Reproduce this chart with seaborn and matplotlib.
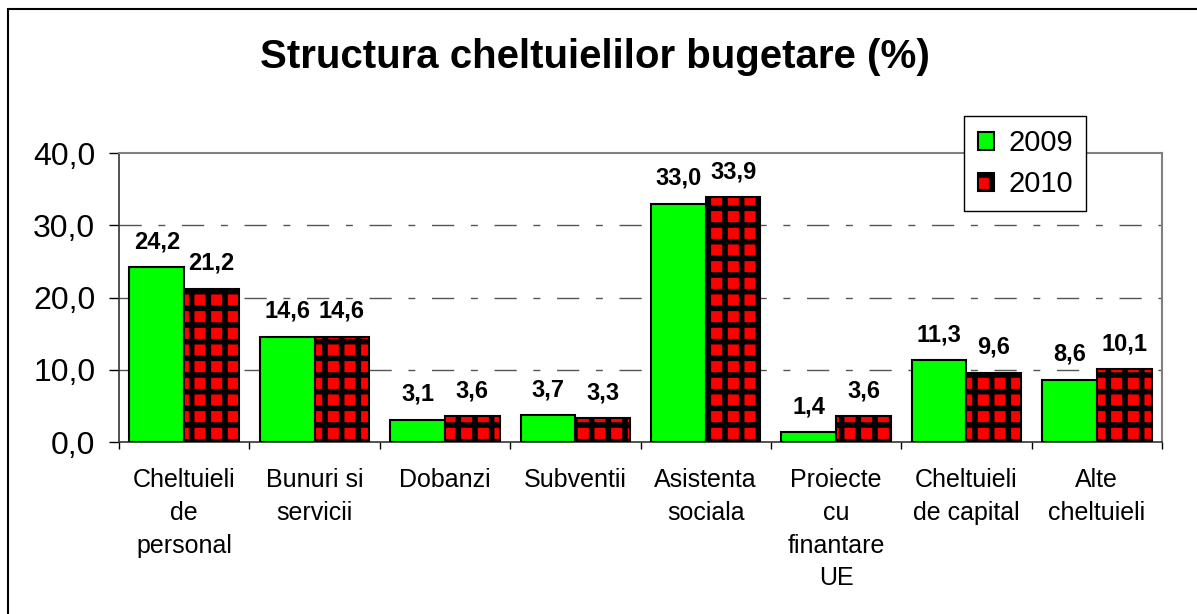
import pandas as pd
import matplotlib
matplotlib.use("Agg")
import matplotlib.pyplot as plt
from matplotlib.patches import Rectangle
from matplotlib.ticker import FixedLocator
import seaborn as sns

categories = ["Cheltuieli\nde\npersonal", "Bunuri si\nservicii", "Dobanzi", "Subventii",
              "Asistenta\nsociala", "Proiecte\ncu\nfinantare\nUE", "Cheltuieli\nde capital",
              "Alte\ncheltuieli"]
years = ["2009", "2010"]
values_2009 = [24.2, 14.6, 3.1, 3.7, 33.0, 1.4, 11.3, 8.6]
values_2010 = [21.2, 14.6, 3.6, 3.3, 33.9, 3.6, 9.6, 10.1]
yticks = [0, 10, 20, 30, 40]

df = pd.DataFrame({
    "categorie": categories * 2,
    "an": [years[0]] * len(categories) + [years[1]] * len(categories),
    "valoare": values_2009 + values_2010,
})

sns.set_style("white")
plt.rcParams["font.family"] = ["Liberation Sans", "DejaVu Sans"]
plt.rcParams["text.color"] = "black"
plt.rcParams["xtick.color"] = "black"
plt.rcParams["ytick.color"] = "black"
plt.rcParams["hatch.linewidth"] = 4.0
plt.rcParams["hatch.color"] = "black"

fig = plt.figure(figsize=(11.97, 6.14), dpi=100)
ax = fig.add_axes([0.0994, 0.2801, 0.8714, 0.4707])

sns.barplot(data=df, x="categorie", y="valoare", hue="an", order=categories,
            palette={"2009": "#00ff00", "2010": "#ff0000"}, width=0.84,
            edgecolor="black", linewidth=1.5, saturation=1, ax=ax, legend=False, zorder=3)

for bar in ax.containers[1]:
    bar.set_hatch("+")

for cont in ax.containers:
    labels = [f"{v:.1f}".replace(".", ",") for v in cont.datavalues]
    ax.bar_label(cont, labels=labels, padding=10, fontsize=17, fontweight="bold", color="black")

ax.set_xlim(-0.5, len(categories) - 0.5)
ax.set_ylim(0, 40)
ax.set_yticks(yticks)
ax.set_yticklabels([f"{t:.1f}".replace(".", ",") for t in yticks], fontsize=23)
ax.tick_params(axis="y", length=7, width=1, direction="out", left=True, pad=10)
ax.tick_params(axis="x", which="major", length=0, labelsize=18, pad=19)
for lbl in ax.get_xticklabels():
    lbl.set_linespacing(1.45)
ax.xaxis.set_minor_locator(FixedLocator([i - 0.5 for i in range(len(categories) + 1)]))
ax.tick_params(axis="x", which="minor", length=5, width=1, direction="out", bottom=True)
ax.set_xlabel("")
ax.set_ylabel("")

for y in [10, 20, 30]:
    ax.axhline(y, color="#555555", lw=1, linestyle=(0, (16, 12, 5, 12)), zorder=1)

for side in ["top", "right"]:
    ax.spines[side].set_visible(True)
    ax.spines[side].set_color("#808080")
    ax.spines[side].set_linewidth(1.5)
for side in ["left", "bottom"]:
    ax.spines[side].set_color("#333333")
    ax.spines[side].set_linewidth(1.2)

leg = ax.legend(ax.containers, years, loc="upper right", bbox_to_anchor=(0.927, 1.128),
                borderaxespad=0, fontsize=21, frameon=True, fancybox=False,
                edgecolor="black", framealpha=1, handlelength=0.55, handleheight=0.55,
                handletextpad=0.5, labelspacing=0.45, borderpad=0.45)
leg.get_frame().set_linewidth(1)
leg.set_zorder(5)

fig.text(0.497, 0.907, "Structura cheltuielilor bugetare (%)", ha="center", va="center",
         fontsize=29, fontweight="bold")

fig.patches.append(Rectangle((8 / 1197, -0.1), 1.2, 1 - 9 / 614 + 0.1, transform=fig.transFigure,
                             fill=False, edgecolor="black", linewidth=1.5))

fig.savefig("out.png", dpi=100)
